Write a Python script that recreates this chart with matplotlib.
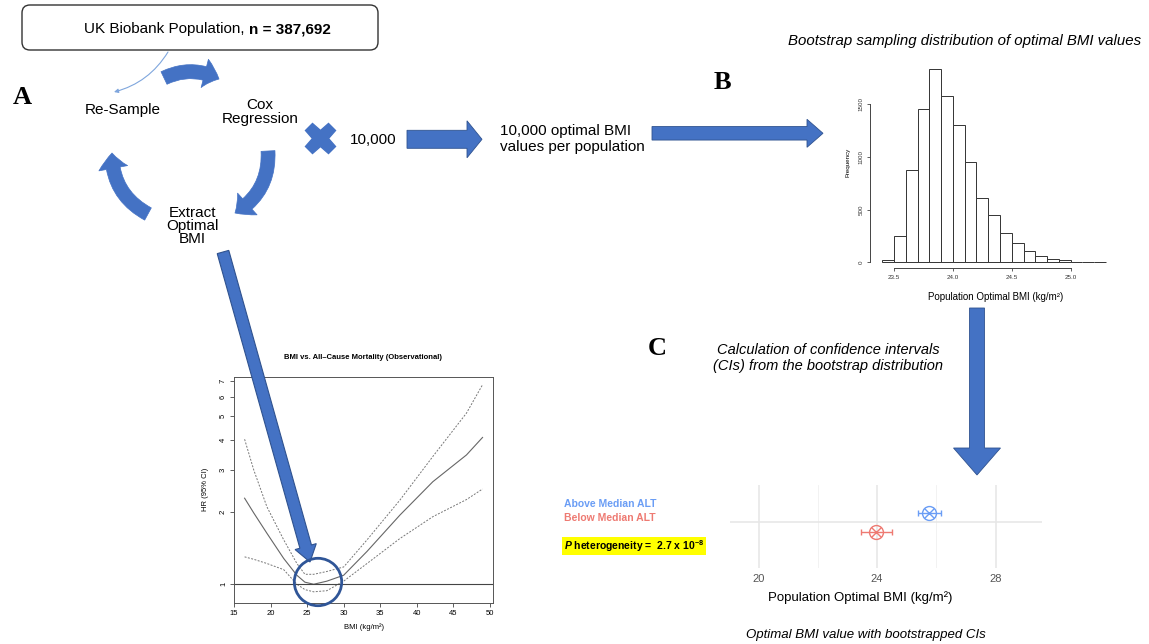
import matplotlib
matplotlib.use("Agg")
import matplotlib.pyplot as plt
import numpy as np
from matplotlib.patches import FancyBboxPatch, FancyArrowPatch, FancyArrow, Circle

plt.rcParams['font.family'] = ['Liberation Sans', 'DejaVu Sans']
plt.rcParams['mathtext.fontset'] = 'custom'
plt.rcParams['mathtext.rm'] = 'Liberation Sans'
plt.rcParams['mathtext.bf'] = 'Liberation Sans:bold'
plt.rcParams['mathtext.it'] = 'Liberation Sans:italic'
plt.rcParams['mathtext.bfit'] = 'Liberation Sans:bold:italic'

# bootstrap histogram of optimal BMI (bin edges, counts)
hist_edges = np.round(np.arange(23.4, 25.31, 0.1), 1)
hist_counts = [25, 250, 880, 1460, 1840, 1575, 1305, 950, 615, 450,
               275, 185, 110, 60, 35, 25, 6, 6, 2]

# spline HR curve for BMI vs all-cause mortality
bmi = [16.45, 17.7, 19.5, 21.8, 23.6, 24.7, 25.9, 27.7, 30.0, 33.2, 37.7, 42.2, 46.8, 49.0]
hr = [2.28, 1.98, 1.63, 1.28, 1.09, 1.02, 1.0, 1.03, 1.09, 1.37, 1.94, 2.67, 3.45, 4.08]
hr_upper = [4.01, 2.99, 2.10, 1.53, 1.22, 1.10, 1.10, 1.13, 1.18, 1.53, 2.24, 3.40, 5.15, 6.76]
hr_lower = [1.30, 1.27, 1.22, 1.15, 1.00, 0.95, 0.93, 0.94, 1.03, 1.22, 1.55, 1.91, 2.25, 2.49]

# optimal BMI by ALT group with bootstrapped CIs
groups = ['Above Median ALT', 'Below Median ALT']
opt_bmi = [25.75, 23.96]
ci_lo = [25.37, 23.46]
ci_hi = [26.16, 24.49]
group_y = [1.25, 0.74]
group_colors = ['#6A9DF5', '#EE7A72']

W, H = 1149, 644
BLUE = '#4472C4'
EDGE = '#2F528F'

fig = plt.figure(figsize=(W / 100, H / 100), dpi=100)


def px_axes(x0, y0, x1, y1):
    return fig.add_axes([x0 / W, 1 - y1 / H, (x1 - x0) / W, (y1 - y0) / H])


# --- HR curve panel ---
hx = px_axes(234, 376.7, 493, 602.7)
hx.plot(bmi, hr, color='#666666', lw=0.8)
hx.plot(bmi, hr_upper, color='#777777', lw=0.7, ls=(0, (2, 1.5)))
hx.plot(bmi, hr_lower, color='#777777', lw=0.7, ls=(0, (2, 1.5)))
hx.axhline(1, color='#444444', lw=0.8)
hx.set_yscale('log')
hx.set_ylim(0.838, 7.3)
hx.set_xlim(15.1, 50.43)
hx.set_yticks([1, 2, 3, 4, 5, 6, 7])
hx.set_yticklabels(['1', '2', '3', '4', '5', '6', '7'], rotation=90, va='center')
hx.yaxis.set_minor_locator(matplotlib.ticker.NullLocator())
hx.set_xticks([15, 20, 25, 30, 35, 40, 45, 50])
hx.tick_params(labelsize=5.5, length=3, width=0.6, color='#444444', pad=2)
for s in hx.spines.values():
    s.set_linewidth(0.7)
    s.set_color('#555555')
hx.set_title('BMI vs. All\u2013Cause Mortality (Observational)', fontsize=5.5,
             fontweight='bold', pad=13)
hx.set_xlabel('BMI (kg/m\u00b2)', fontsize=5.5, labelpad=5)
hx.set_ylabel('HR (95% CI)', fontsize=5.5, labelpad=8)

# --- bootstrap histogram ---
bx = px_axes(876, 62, 1115, 262.3)
bars = bx.bar(hist_edges[:-1], hist_counts, width=0.1, align='edge',
              facecolor='white', edgecolor='#333333', linewidth=0.7)
for b in bars:
    b.set_clip_on(False)
bx.set_xlim(23.347, 25.376)
bx.set_ylim(0, 1902)
for side in ['top', 'right']:
    bx.spines[side].set_visible(False)
bx.spines['left'].set_position(('outward', 4.3))
bx.spines['bottom'].set_position(('outward', 4.3))
bx.spines['left'].set_bounds(0, 1500)
bx.spines['bottom'].set_bounds(23.5, 25.0)
for s in ['left', 'bottom']:
    bx.spines[s].set_linewidth(0.7)
    bx.spines[s].set_color('#444444')
bx.set_xticks([23.5, 24.0, 24.5, 25.0])
bx.set_xticklabels(['23.5', '24.0', '24.5', '25.0'])
bx.set_yticks([0, 500, 1000, 1500])
bx.set_yticklabels(['0', '500', '1000', '1500'], rotation=90, va='center')
bx.tick_params(labelsize=4.5, length=2.5, width=0.6, color='#444444', pad=2,
               labelcolor='#333333')
bx.set_ylabel('Frequency', fontsize=4.5, labelpad=6)
bx.set_xlabel('Population Optimal BMI (kg/m\u00b2)', fontsize=7, labelpad=9)

# --- optimal BMI by group ---
fx = px_axes(730, 485, 1042, 568.3)
fx.set_xlim(19.03, 29.57)
fx.set_ylim(-0.28, 2.04)
fx.set_xticks([20, 24, 28])
fx.set_xticks([22, 26], minor=True)
fx.set_yticks([1])
fx.set_yticklabels([])
fx.grid(which='major', color='#E6E6E6', lw=1.1)
fx.grid(which='minor', axis='x', color='#F0F0F0', lw=0.6)
fx.set_axisbelow(True)
for s in fx.spines.values():
    s.set_visible(False)
fx.tick_params(which='both', length=0, labelsize=8, labelcolor='#555555', pad=4)
for xv, lo, hi, yv, c in zip(opt_bmi, ci_lo, ci_hi, group_y, group_colors):
    fx.errorbar([xv], [yv], xerr=[[xv - lo], [hi - xv]], fmt='none',
                ecolor=c, elinewidth=1.0, capsize=2, capthick=1.0)
    fx.plot([xv], [yv], 'o', mfc='none', mec=c, ms=10, mew=1.0)
    fx.plot([xv], [yv], 'x', color=c, ms=7, mew=1.0)
fx.set_xlabel('Population Optimal BMI (kg/m\u00b2)', fontsize=9.5)
fx.xaxis.set_label_coords(130 / 312, -0.27)

# --- overlay: boxes, text and arrows in pixel coordinates ---
ov = fig.add_axes([0, 0, 1, 1])
ov.set_xlim(0, W)
ov.set_ylim(H, 0)
ov.axis('off')
ov.set_zorder(10)
ov.patch.set_visible(False)

ov.add_patch(FancyBboxPatch((22, 5), 356, 45, boxstyle='round,pad=0,rounding_size=8',
                            fc='white', ec='#333333', lw=1))
ov.text(245, 29, 'UK Biobank Population,', fontsize=11, ha='right', va='center')
ov.text(249, 29, 'n = 387,692', fontsize=11, ha='left', va='center', fontweight='bold')

# thin arrow from population box to re-sample
ov.annotate('', xy=(114, 92), xytext=(168, 52),
            arrowprops=dict(arrowstyle='-|>', color='#7FA6DD', lw=0.8,
                            connectionstyle='arc3,rad=-0.2', mutation_scale=6,
                            shrinkA=0, shrinkB=0))

for label, x, y in [('A', 22, 97), ('B', 722, 82), ('C', 657, 348)]:
    ov.text(x, y, label, fontsize=19, fontweight='bold', family='Liberation Serif',
            ha='center', va='center')

ov.text(123, 110, 'Re-Sample', fontsize=11, ha='center', va='center')
ov.text(260, 112, 'Cox\nRegression', fontsize=11, ha='center', va='center',
        linespacing=1.0)
ov.text(192, 226, 'Extract\nOptimal\nBMI', fontsize=11, ha='center', va='center',
        linespacing=0.95)

# cycle arrows
arc_style = 'simple,tail_width=10,head_width=21,head_length=11'
for a, b, r in [((164, 78), (219, 79), -0.25),
                ((268, 151), (235, 213), -0.3),
                ((148, 214), (112, 153), -0.3)]:
    ov.add_patch(FancyArrowPatch(a, b, connectionstyle=f'arc3,rad={r}',
                                 arrowstyle=arc_style, mutation_scale=1,
                                 fc=BLUE, ec=BLUE, lw=0.5, shrinkA=0, shrinkB=0))

ov.plot([320], [138], marker='X', ms=22, color=BLUE, mec=BLUE)
ov.text(350, 140, '10,000', fontsize=11, ha='left', va='center')

ov.add_patch(FancyArrow(407, 139.3, 75, 0, width=18, head_width=37, head_length=15,
                        length_includes_head=True, fc=BLUE, ec=EDGE, lw=0.6))
ov.text(500, 139, '10,000 optimal BMI\nvalues per population', fontsize=11,
        ha='left', va='center', linespacing=1.1)
ov.add_patch(FancyArrow(652, 133.3, 171, 0, width=13.5, head_width=28, head_length=16,
                        length_includes_head=True, fc=BLUE, ec=EDGE, lw=0.6))

ov.text(965, 41, 'Bootstrap sampling distribution of optimal BMI values',
        fontsize=10.8, style='italic', ha='center', va='center')
ov.text(828, 358, 'Calculation of confidence intervals\n(CIs) from the bootstrap distribution',
        fontsize=10.5, style='italic', ha='center', va='center', linespacing=1.1)
ov.add_patch(FancyArrow(977, 308, 0, 167, width=15, head_width=47, head_length=27,
                        length_includes_head=True, fc=BLUE, ec=EDGE, lw=0.6))

# diagonal arrow into the HR minimum
ov.add_patch(FancyArrow(223, 252, 87, 310, width=12, head_width=22, head_length=16,
                        length_includes_head=True, fc=BLUE, ec=EDGE, lw=0.8))
ov.add_patch(Circle((318, 582), 23.7, fill=False, ec='#2F5597', lw=2))

# legend for the groups
ov.text(564, 504, groups[0], fontsize=7.5, fontweight='bold', color=group_colors[0],
        ha='left', va='center')
ov.text(564, 518, groups[1], fontsize=7.5, fontweight='bold', color=group_colors[1],
        ha='left', va='center')
ov.text(564, 546, r'$\mathbfit{P}$ heterogeneity =  2.7 x 10$^{\mathbf{-8}}$',
        fontsize=7.5, fontweight='bold', ha='left', va='center',
        bbox=dict(boxstyle='square,pad=0.15', fc='#FFFF00', ec='none'))

ov.text(866, 635, 'Optimal BMI value with bootstrapped CIs', fontsize=9.5,
        style='italic', ha='center', va='center')

fig.savefig('out.png', dpi=100, facecolor='white')
